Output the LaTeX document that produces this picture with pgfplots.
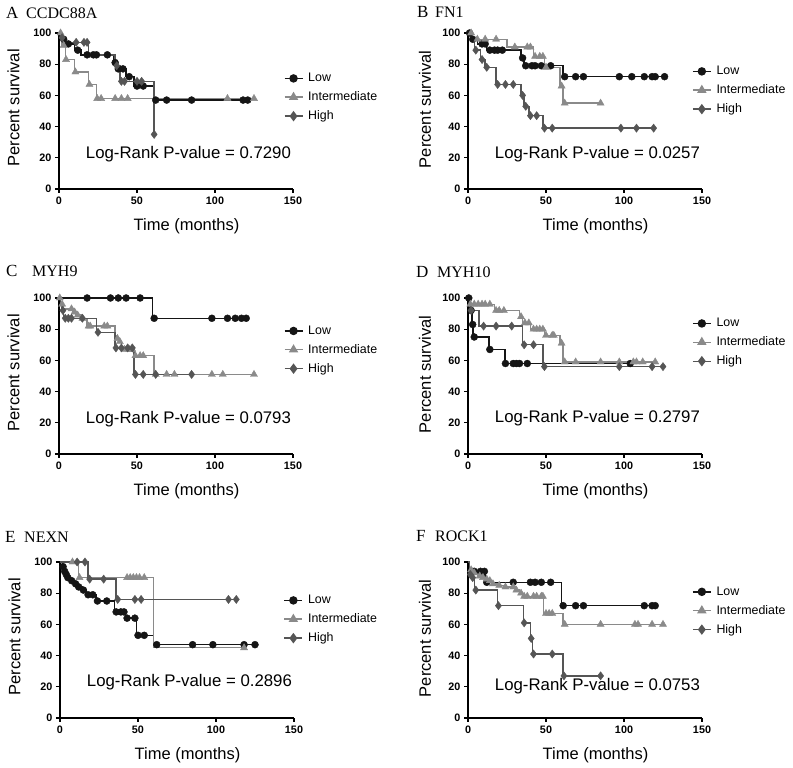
\documentclass[border=0pt]{standalone}
\usepackage{fontspec}
\setmainfont{Liberation Sans}
\newfontfamily\serif{Liberation Serif}
\usepackage{pgfplots}
\pgfplotsset{compat=1.18}
\definecolor{cLow}{HTML}{151515}
\definecolor{cInt}{HTML}{8A8A8A}
\definecolor{cHigh}{HTML}{555555}
\pgfplotsset{
  km/.style={scale only axis, width=234pt, height=156pt,
    xmin=0, xmax=150, ymin=0, ymax=100,
    axis lines*=left, axis line style={line width=1.5pt, black},
    xtick={0,50,100,150}, ytick={0,20,40,60,80,100},
    tick align=outside, major tick length=4pt,
    tick style={line width=1.3pt, black},
    /pgf/number format/assume math mode=true,
    ticklabel style={font=\fontsize{10.8}{12}\selectfont\bfseries},
    xlabel={Time (months)}, ylabel={Percent survival},
    every axis x label/.style={at={(axis description cs:0.545,-0.24)}, anchor=center, font=\fontsize{16.5}{19}\selectfont},
    every axis y label/.style={at={(axis description cs:-0.195,0.52)}, anchor=center, rotate=90, font=\fontsize{16.5}{19}\selectfont},
    clip=false,
    legend cell align=left,
    legend style={draw=none, fill=none, inner sep=0pt, anchor=north west,
      font=\fontsize{12.4}{14}\selectfont, row sep=4.5pt},
    legend image code/.code={\draw[mark repeat=2,mark phase=2,##1] plot coordinates {(0pt,0pt) (9pt,0pt) (18pt,0pt)}; \path (21pt,0pt);},
  },
  lowL/.style={color=cLow, line width=1.4pt, const plot, forget plot},
  intL/.style={color=cInt, line width=1.4pt, const plot, forget plot},
  highL/.style={color=cHigh, line width=1.4pt, const plot, forget plot},
  lowM/.style={color=cLow, only marks, mark=*, mark size=3.5pt, forget plot},
  intM/.style={color=cInt, only marks, mark=triangle*, mark size=4.1pt, forget plot},
  highM/.style={color=cHigh, only marks, mark=diamond*, mark size=4.1pt, forget plot},
}
\newcommand{\legs}{%
  \addlegendimage{color=cLow, line width=1.4pt, mark=*, mark size=3.5pt}
  \addlegendentry{Low}
  \addlegendimage{color=cInt, line width=1.4pt, mark=triangle*, mark size=4.1pt}
  \addlegendentry{Intermediate}
  \addlegendimage{color=cHigh, line width=1.4pt, mark=diamond*, mark size=4.1pt}
  \addlegendentry{High}}
\newcommand{\pval}[2]{\node[anchor=base west, font=\fontsize{16.8}{19}\selectfont] at (axis cs:15,#1) {Log-Rank P-value = #2};}
\begin{document}
\begin{tikzpicture}[x=1pt,y=1pt]
\path[use as bounding box] (0,0) rectangle (793,768);
% ---------- A ----------
\begin{axis}[km, at={(59pt,579pt)}, anchor=south west,
  legend style={at={(0.96,0.755)}}]
\legs
\addplot[lowL] coordinates {(0,100)(2,96)(4,93)(10,89)(14,86)(35,81)(37,77)(43,72)(48,66)(61,57)(121,57)};
\addplot[intL] coordinates {(0,100)(2,92)(4,83)(10,75)(19,67)(24,58)(125,58)};
\addplot[highL] coordinates {(0,100)(1,97)(4,94)(19,86)(36,79)(39,69)(61,35)};
\addplot[lowM] coordinates {(3,96)(6,93)(12,89)(18,86)(22,86)(24,86)(31,86)(36,81)(38,77)(41,77)(45,72)(50,66)(54,66)(62,57)(69,57)(85,57)(118,57)(121,57)};
\addplot[intM] coordinates {(1,100)(3,92)(4.5,83)(10.5,75)(19.5,67)(24.5,58)(27,58)(36,58)(40,58)(44,58)(108,58)(125,58)};
\addplot[highM] coordinates {(2,97)(11,94)(16,94)(18,94)(37,79)(40,69)(42,69)(50,69)(53,69)(61,35)};
\pval{19.7}{0.7290}
\end{axis}
% ---------- B ----------
\begin{axis}[km, at={(468pt,579pt)}, anchor=south west,
  every axis y label/.append style={at={(axis description cs:-0.184,0.51)}},
  legend style={at={(0.957,0.8)}}]
\legs
\addplot[lowL] coordinates {(0,100)(2,96)(6,93)(12,89)(34,84)(36,79)(61,72)(126,72)};
\addplot[intL] coordinates {(0,100)(3,96)(25,91)(42,85)(49,78)(59,66)(61,55)(85,55)};
\addplot[highL] coordinates {(0,100)(2,95)(4,89)(8,83)(11,78)(18,67)(34,60)(36,53)(39,47)(48,39)(119,39)};
\addplot[lowM] coordinates {(1,100)(3,96)(9,93)(11,93)(14,89)(17,89)(19,89)(22,89)(35,84)(37,79)(41,79)(43,79)(47,79)(53,79)(62,72)(69,72)(74,72)(97,72)(105,72)(113,72)(118,72)(120,72)(126,72)};
\addplot[intM] coordinates {(2,100)(6,96)(11,96)(18,96)(30,91)(38,91)(40,91)(43,85)(46,85)(48,85)(50,78)(60,66)(62,55)(85,55)};
\addplot[highM] coordinates {(5,89)(9,83)(12,78)(19,67)(24,67)(29,67)(35,60)(37,53)(40,47)(44,47)(49,39)(54,39)(98,39)(108,39)(119,39)};
\pval{19.8}{0.0257}
\end{axis}
% ---------- C ----------
\begin{axis}[km, at={(59pt,314pt)}, anchor=south west,
  legend style={at={(0.96,0.835)}}]
\legs
\addplot[lowL] coordinates {(0,100)(60,87)(120,87)};
\addplot[intL] coordinates {(0,100)(1,96)(3,93)(9,91)(11,89)(14,87)(18,82)(36,76)(37,74)(38,72)(40,67)(48,63)(61,51)(125,51)};
\addplot[highL] coordinates {(0,100)(1,96)(2,92)(3,87)(24,78)(36,68)(48,51)(85,51)};
\addplot[lowM] coordinates {(18,100)(33,100)(38,100)(43,100)(52,100)(61,87)(98,87)(108,87)(113,87)(117,87)(120,87)};
\addplot[intM] coordinates {(0.5,100)(2,96)(8,93)(10,91)(12,89)(15,87)(19,82)(20,82)(29,82)(31,82)(37.5,74)(39,72)(42,67)(45,67)(47,67)(49,63)(52,63)(54,63)(62,51)(69,51)(74,51)(98,51)(105,51)(125,51)};
\addplot[highM] coordinates {(2.5,92)(4,87)(6,87)(8,87)(15,87)(25,78)(36.5,68)(40,68)(44,68)(47,68)(49,51)(54,51)(62,51)(85,51)};
\pval{19.3}{0.0793}
\end{axis}
% ---------- D ----------
\begin{axis}[km, at={(468pt,314pt)}, anchor=south west,
  every axis y label/.append style={at={(axis description cs:-0.184,0.51)}},
  legend style={at={(0.957,0.883)}}]
\legs
\addplot[lowL] coordinates {(0,100)(1.5,92)(2.5,83)(3.2,75)(13.5,67)(23.6,58)(104,58)};
\addplot[intL] coordinates {(0,100)(1,96)(17,92)(33,88)(35,84)(40,80)(49,76)(59,71)(61,59)(120,59)};
\addplot[highL] coordinates {(0,100)(1,92)(7,82)(35,70)(48,56)(125,56)};
\addplot[lowM] coordinates {(0.5,100)(2,92)(3,83)(4,75)(14,67)(24,58)(29,58)(31,58)(33,58)(38,58)(104,58)};
\addplot[intM] coordinates {(1.5,96)(4,96)(6.5,96)(9,96)(11,96)(14,96)(18,92)(20,92)(23,92)(34,88)(36.5,84)(39,84)(42,80)(44,80)(46,80)(48,80)(50,76)(54,76)(55,76)(60,71)(62,59)(69,59)(85,59)(97,59)(106,59)(108,59)(112,59)(120,59)};
\addplot[highM] coordinates {(2,92)(10,82)(18,82)(28,82)(36,70)(42,70)(49,56)(97,56)(118,56)(125,56)};
\pval{20.3}{0.2797}
\end{axis}
% ---------- E ----------
\begin{axis}[km, at={(60pt,50pt)}, anchor=south west,
  legend style={at={(0.955,0.8)}}]
\legs
\addplot[lowL] coordinates {(0,100)(1.5,97)(2.5,94)(3.5,92)(4.5,90)(5.5,88)(9,86)(11,84)(14,82)(17,79)(23,75)(35,68)(42,64)(49,53)(60,47)(125,47)};
\addplot[intL] coordinates {(0,100)(12,90)(60,45)(118,45)};
\addplot[highL] coordinates {(0,100)(18,89)(36,76)(113,76)};
\addplot[lowM] coordinates {(2,97)(3,94)(4,92)(5,90)(7.5,88)(10,86)(12,84)(15,82)(18,79)(21,79)(24,75)(30,75)(36,68)(39,68)(41,68)(43,64)(48,64)(50,53)(54,53)(62,47)(85,47)(98,47)(118,47)(125,47)};
\addplot[intM] coordinates {(8,100)(12.5,90)(43,90)(45,90)(47,90)(49,90)(51,90)(54,90)(118,45)};
\addplot[highM] coordinates {(11,100)(16,100)(19,89)(28,89)(37,76)(48,76)(52,76)(108,76)(113,76)};
\pval{20.2}{0.2896}
\end{axis}
% ---------- F ----------
\begin{axis}[km, at={(468pt,50pt)}, anchor=south west,
  every axis y label/.append style={at={(axis description cs:-0.184,0.51)}},
  legend style={at={(0.957,0.855)}}]
\legs
\addplot[lowL] coordinates {(0,100)(1,94)(11,87)(60,72)(120,72)};
\addplot[intL] coordinates {(0,100)(1,95)(3,93)(6,91)(9,90)(11,89)(13,88)(15,86)(19,85)(23,84)(30,82)(33,80)(35,78)(48.5,67)(61,60)(125,60)};
\addplot[highL] coordinates {(0,100)(1,92)(2,90)(4.3,82)(19,72)(35.5,61)(40,51)(41.5,41)(61,27)(85,27)};
\addplot[lowM] coordinates {(4,94)(8,94)(10.5,94)(12,87)(29,87)(40,87)(43,87)(47,87)(53,87)(61,72)(69,72)(74,72)(113,72)(118,72)(120,72)};
\addplot[intM] coordinates {(2,95)(4,93)(7.5,91)(9.6,90)(12,89)(14,88)(16,86)(20,85)(24,84)(29,84)(31,82)(34,80)(36,78)(38,78)(42,78)(44,78)(47,78)(48,78)(50,67)(52,67)(54,67)(62,60)(85,60)(107,60)(109,60)(118,60)(125,60)};
\addplot[highM] coordinates {(1.5,92)(3,90)(5,82)(19.5,72)(36,61)(40.5,51)(42,41)(54,41)(61.5,27)(85,27)};
\pval{17.4}{0.0753}
\end{axis}
% ---------- panel titles ----------
\node[anchor=base west, inner sep=0pt, font=\serif\fontsize{17}{20}\selectfont] at (6,749) {A};
\node[anchor=base west, inner sep=0pt, font=\serif\fontsize{16}{19}\selectfont] at (26,749) {CCDC88A};
\node[anchor=base west, inner sep=0pt, font=\serif\fontsize{17}{20}\selectfont] at (417,750) {B};
\node[anchor=base west, inner sep=0pt, font=\serif\fontsize{16}{19}\selectfont] at (435,750) {FN1};
\node[anchor=base west, inner sep=0pt, font=\serif\fontsize{17}{20}\selectfont] at (6,491) {C};
\node[anchor=base west, inner sep=0pt, font=\serif\fontsize{16}{19}\selectfont] at (32,491) {MYH9};
\node[anchor=base west, inner sep=0pt, font=\serif\fontsize{17}{20}\selectfont] at (416,490) {D};
\node[anchor=base west, inner sep=0pt, font=\serif\fontsize{16}{19}\selectfont] at (437,490) {MYH10};
\node[anchor=base west, inner sep=0pt, font=\serif\fontsize{17}{20}\selectfont] at (5,225) {E};
\node[anchor=base west, inner sep=0pt, font=\serif\fontsize{16}{19}\selectfont] at (24,225) {NEXN};
\node[anchor=base west, inner sep=0pt, font=\serif\fontsize{17}{20}\selectfont] at (416,226) {F};
\node[anchor=base west, inner sep=0pt, font=\serif\fontsize{16}{19}\selectfont] at (435,226) {ROCK1};
\end{tikzpicture}
\end{document}
